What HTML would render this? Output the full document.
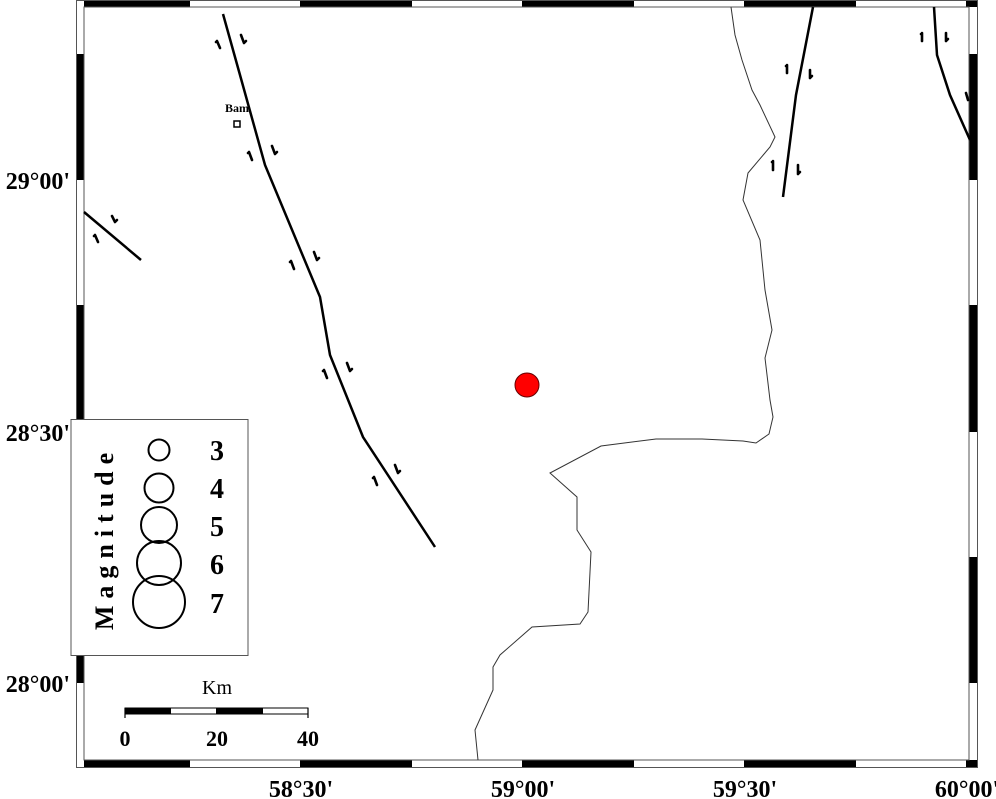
<!DOCTYPE html>
<html><head><meta charset="utf-8"><style>
html,body{margin:0;padding:0;background:#fff;}
svg{display:block;}
text{font-family:"Liberation Serif",serif;}
</style></head><body>
<svg width="996" height="799" viewBox="0 0 996 799" xmlns="http://www.w3.org/2000/svg">
<rect x="0" y="0" width="996" height="799" fill="#fff"/>
<g fill="#000">
<rect x="84" y="0" width="106" height="7"/><rect x="300" y="0" width="112" height="7"/><rect x="522" y="0" width="112" height="7"/><rect x="744" y="0" width="112" height="7"/><rect x="966" y="0" width="11" height="7"/>
<rect x="84" y="760" width="106" height="8"/><rect x="300" y="760" width="112" height="8"/><rect x="522" y="760" width="112" height="8"/><rect x="744" y="760" width="112" height="8"/><rect x="966" y="760" width="11" height="8"/>
<rect x="77" y="54" width="7" height="126"/><rect x="77" y="305" width="7" height="127"/><rect x="77" y="557" width="7" height="126"/>
<rect x="969" y="54" width="8" height="126"/><rect x="969" y="305" width="8" height="127"/><rect x="969" y="557" width="8" height="126"/>
</g>
<rect x="76.5" y="0.5" width="901" height="767" fill="none" stroke="#555" stroke-width="1"/>
<rect x="84" y="7" width="885" height="753" fill="none" stroke="#555" stroke-width="1"/>
<polyline fill="none" stroke="#333" stroke-width="1" points="731,7 735,35 742,60 752,90 760,105 775,137 770,147 748,173 743,200 760,240 765,290 772,330 765,358 770,400 773,417 769,434 756,443 743,441 702,439 656,439 601,446 550,473 577,497 577,530 591,552 590,572 588,612 580,624 532,627 500,655 493,667 493,690 475,730 478,760"/>
<g fill="none" stroke="#000" stroke-width="2.5">
<polyline points="223,14 240,75 265,165 320,297 330,355 363,437 435,547"/>
<polyline points="84,212 141,260"/>
<polyline points="813,7 796,95 783,197"/>
<polyline points="934,7 937,55 950,95 970,140"/>
</g>
<g fill="none" stroke="#000" stroke-width="2.6" stroke-linecap="round">
<path d="M217,41 l3,7 M217,42 l-1,0"/><path d="M241,35 l3,8 M244,43 l2,-2"/>
<path d="M249,152 l3,8 M249,153 l-1,0"/><path d="M272,146 l3,8 M275,154 l2,-2"/>
<path d="M291,261 l3,8 M291,262 l-1,0"/><path d="M314,252 l3,8 M317,260 l2,-2"/>
<path d="M324,370 l3,8 M324,371 l-1,0"/><path d="M347,363 l3,8 M350,371 l2,-2"/>
<path d="M374,477 l3,8 M374,478 l-1,0"/><path d="M395,465 l3,8 M398,473 l2,-2"/>
<path d="M95,235 l3,7 M95,236 l-1,0"/><path d="M112,216 l3,6 M115,222 l2,-2"/>
<path d="M787,65 l0,8 M787,66 l-1,0"/><path d="M810,70 l0,8 M810,78 l2,-2"/>
<path d="M773,161 l0,9 M773,162 l-1,0"/><path d="M798,165 l0,9 M798,174 l2,-2"/>
<path d="M922,33 l0,8 M922,34 l-1,0"/><path d="M946,33 l0,8 M946,41 l2,-2"/>
<path d="M966,93 l2,7"/>
</g>
<text x="237" y="112" font-size="12" font-weight="bold" text-anchor="middle">Bam</text>
<rect x="234" y="121" width="6" height="6" fill="none" stroke="#000" stroke-width="1.5"/>
<circle cx="527" cy="385" r="12" fill="#ff0000" stroke="#600" stroke-width="1"/>
<rect x="71" y="419.5" width="177" height="236" fill="#fff" stroke="#555" stroke-width="1"/>
<text transform="translate(113,538) rotate(-90)" font-size="26" font-weight="bold" text-anchor="middle" letter-spacing="7">Magnitude</text>
<g fill="none" stroke="#000" stroke-width="2">
<circle cx="159" cy="450" r="10.5"/><circle cx="159" cy="488" r="14.5"/><circle cx="159" cy="525" r="18"/><circle cx="159" cy="563" r="22"/><circle cx="159" cy="602" r="26"/>
</g>
<g font-size="28" font-weight="bold">
<text x="210" y="460">3</text><text x="210" y="498">4</text><text x="210" y="536">5</text><text x="210" y="574">6</text><text x="210" y="613">7</text>
</g>
<rect x="125" y="708" width="183" height="6" fill="#fff" stroke="#000" stroke-width="1"/>
<rect x="125" y="708" width="46" height="6" fill="#000"/><rect x="216" y="708" width="47" height="6" fill="#000"/>
<path d="M125,708 v10 M308,708 v10" stroke="#000" stroke-width="1.2"/>
<text x="217" y="694" font-size="20" text-anchor="middle">Km</text>
<g font-size="22" font-weight="bold" text-anchor="middle">
<text x="125" y="746">0</text><text x="217" y="746">20</text><text x="308" y="746">40</text>
</g>
<g font-size="24" font-weight="bold">
<text x="301" y="797" text-anchor="middle">58°30'</text>
<text x="523" y="797" text-anchor="middle">59°00'</text>
<text x="745" y="797" text-anchor="middle">59°30'</text>
<text x="967" y="797" text-anchor="middle">60°00'</text>
<text x="70" y="189" text-anchor="end">29°00'</text>
<text x="70" y="441" text-anchor="end">28°30'</text>
<text x="70" y="692" text-anchor="end">28°00'</text>
</g>
</svg>
</body></html>
